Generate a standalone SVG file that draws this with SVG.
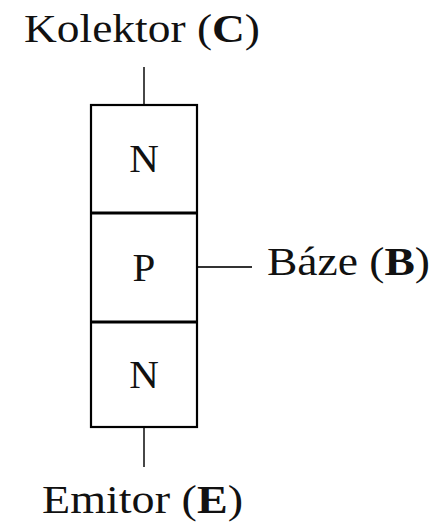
<svg xmlns="http://www.w3.org/2000/svg" width="444" height="528" viewBox="0 0 444 528">
<style>
.t{font-family:"Liberation Serif","DejaVu Serif",serif;font-size:41px;fill:#111}
.b{font-weight:bold}
.box{fill:#fff;stroke:#000;stroke-width:2.2}
.div{stroke:#000;stroke-width:3.2}
.lead{stroke:#333;stroke-width:1.8;fill:none}
</style>
<rect width="444" height="528" fill="#fff"/>
<g id="connectors">
<line class="lead" x1="144" y1="67" x2="144" y2="105"/>
<line class="lead" x1="197" y1="267" x2="252" y2="267"/>
<line class="lead" x1="144" y1="427" x2="144" y2="467"/>
</g>
<g id="transistor">
<rect class="box" x="91" y="105" width="106" height="322"/>
<line class="div" x1="91" y1="213" x2="197" y2="213"/>
<line class="div" x1="91" y1="322" x2="197" y2="322"/>
</g>
<g id="n-top"><text class="t" x="144" y="172" text-anchor="middle" font-size="40">N</text></g>
<g id="p-mid"><text class="t" x="144" y="281" text-anchor="middle" font-size="40">P</text></g>
<g id="n-bot"><text class="t" x="144" y="388" text-anchor="middle" font-size="40">N</text></g>
<g id="kolektor"><text class="t" x="24" y="42" textLength="236" lengthAdjust="spacingAndGlyphs">Kolektor (<tspan class="b">C</tspan>)</text></g>
<g id="baze"><text class="t" x="267" y="275" textLength="163" lengthAdjust="spacingAndGlyphs">Báze (<tspan class="b">B</tspan>)</text></g>
<g id="emitor"><text class="t" x="42" y="513" textLength="201" lengthAdjust="spacingAndGlyphs">Emitor (<tspan class="b">E</tspan>)</text></g>
</svg>
